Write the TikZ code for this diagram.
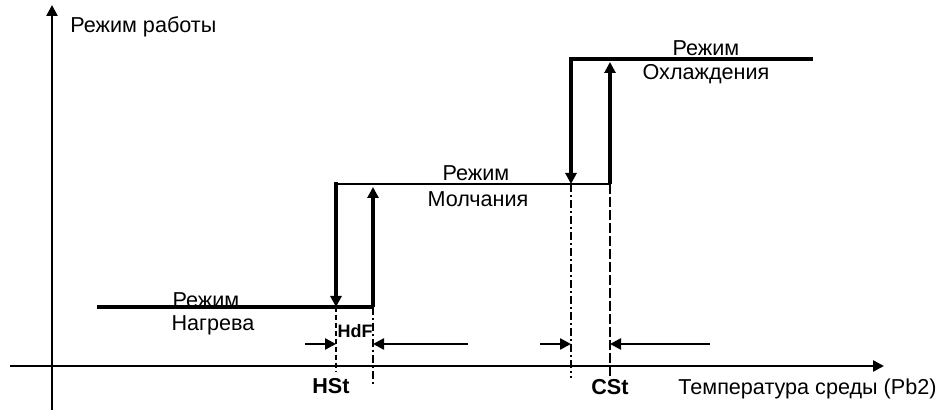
\documentclass[tikz,border=0pt]{standalone}
\usepackage{fontspec}
\setmainfont{Liberation Sans}
\usepackage{tikz}
\usetikzlibrary{positioning, arrows.meta}

\begin{document}
\begin{tikzpicture}[x=0.5pt, y=-0.5pt,
    >={Triangle[length=5.5pt, width=5.5pt]},
    axis/.style={line width=1.2pt},
    mode/.style={line width=1.6pt},
    label/.style={font=\fontsize{10.8}{13}\selectfont, inner sep=1pt},
    setp/.style={font=\fontsize{10.8}{13}\selectfont\bfseries, inner sep=1pt}]
    \useasboundingbox (0,0) rectangle (944,415);

    % Axes
    \coordinate (ybot) at (52,410);
    \coordinate (ytop) at (52,5);
    \coordinate (xl) at (10,366);
    \coordinate (xr) at (884,366);
    \draw[axis, ->] (ybot) -- (ytop);
    \draw[axis, ->] (xl) -- (xr);
    \node[label, anchor=west] (ylab) at (68,27) {Режим работы};
    \node[label, anchor=west] (xlab) at (676,389) {Температура среды (Pb2)};

    % Switching points
    \coordinate (heat0) at (97,307);
    \coordinate (hst) at (336,307);
    \coordinate (hstT) at (336,184);
    \coordinate (hdf) at (373,307);
    \coordinate (hdfT) at (373,184);
    \coordinate (cdf) at (571,184);
    \coordinate (cdfT) at (571,59);
    \coordinate (cst) at (610,184);
    \coordinate (cstT) at (610,59);
    \coordinate (cool1) at (813,59);

    % Mode lines
    \draw[mode] (heat0) -- (hdf);
    \draw[line width=0.9pt] (hstT) -- (cst);
    \draw[mode] (cdfT) -- (cool1);

    % Transitions
    \draw[mode, ->] ([yshift=1pt]hstT) -- (hst);
    \draw[mode, ->] (hdf) -- ([yshift=-1.5pt]hdfT);
    \draw[mode, ->] ([yshift=1pt]cdfT) -- (cdf);
    \draw[mode, ->] (cst) -- ([yshift=-1.5pt]cstT);

    % Guide lines
    \draw[line width=1pt, dash pattern=on 2.5pt off 1.5pt] (hst) -- (336,372);
    \draw[line width=1pt, dash pattern=on 4pt off 1.5pt on 1pt off 1.5pt] (hdf) -- (373,385);
    \draw[line width=0.9pt, dash pattern=on 4pt off 1.5pt on 1pt off 1.5pt] (cdf) -- (571,378);
    \draw[line width=1.4pt, dash pattern=on 5pt off 1.5pt] (cst) -- (610,376);

    % Differential arrows
    \foreach \a/\b in {305/336, 468/373, 540/571, 710/610} {
        \draw[axis, ->] (\a,344) -- (\b,344);
    }

    % Setpoint labels
    \node[setp] (hstl) at (331,386) {HSt};
    \node[setp, font=\small\bfseries] (hdfl) at (355,331) {HdF};
    \node[setp] (cstl) at (610,387) {CSt};

    % Mode labels
    \node[label] (heatA) at (206,300) {Режим};
    \node[label] (heatB) at (213,325) {Нагрева};
    \node[label] (idleA) at (476,173) {Режим};
    \node[label] (idleB) at (478,199) {Молчания};
    \node[label] (coolA) at (706,48) {Режим};
    \node[label] (coolB) at (706,74) {Охлаждения};
\end{tikzpicture}
\end{document}
